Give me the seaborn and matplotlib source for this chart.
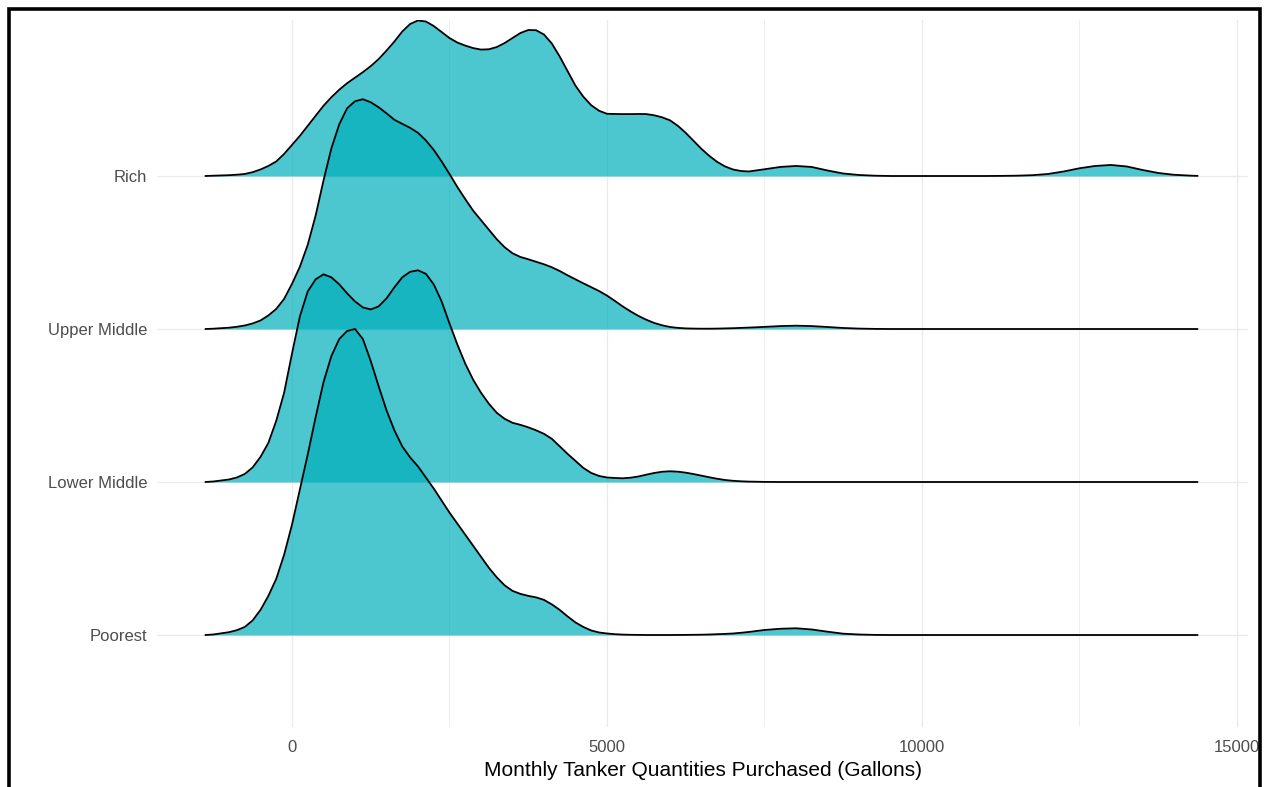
import numpy as np
import pandas as pd
import matplotlib
matplotlib.use("Agg")
import matplotlib.pyplot as plt
from matplotlib.patches import Rectangle
from matplotlib.ticker import MultipleLocator
import seaborn as sns

# ---------------- data ----------------
# sampling positions along the x axis (gallons)
GALLONS = [-1375, -1250, -1000, -875, -750, -625, -500, -375,
           -250, -125, 0, 125, 250, 375, 500, 625, 750, 875,
           1000, 1125, 1250, 1375, 1500, 1625, 1750, 1875, 2000, 2125,
           2250, 2375, 2500, 2625, 2750, 2875, 3000, 3125, 3250, 3375,
           3500, 3625, 3750, 3875, 4000, 4125, 4250, 4375, 4500, 4625,
           4750, 4875, 5000,
           5125, 5250, 5375, 5500, 5625, 5750, 5875, 6000, 6125, 6250,
           6375, 6500, 6625, 6750, 6875, 7000, 7125, 7250,
           7500, 7750, 8000, 8250, 8500, 8750, 9000, 9250, 9500, 9750,
           10000, 10250, 10500, 10750, 11000, 11250, 11500, 11750, 12000, 12250,
           12500, 12750, 13000, 13250, 13500, 13750, 14000, 14250,
           14375]

GROUPS = ["Poorest", "Lower Middle", "Upper Middle", "Rich"]

# relative density heights (one common scale for all groups)
RICH = [0, 0.3, 0.8, 1.3, 2, 3.8, 6.5, 10,
        14.5, 22, 31, 40, 50, 60, 70, 78.5, 86, 92.5,
        98, 103.5, 109.5, 116.5, 125, 134, 144, 151.5, 155, 154,
        149.5, 143.5, 137.5, 133, 130, 127.5, 126, 126.3, 128.5, 132.5,
        137.5, 142.5, 145.5, 145.3, 141, 132, 119, 104.5, 90, 79,
        70.5, 65, 62,
        61.8, 61.7, 61.7, 61.8, 61.7, 60.5, 58.5, 55.5, 50, 43,
        35, 27, 20, 14, 9.5, 6.5, 5, 4.5,
        6.7, 9, 10, 9, 5.5, 2.5, 1, 0.3, 0, 0,
        0, 0, 0, 0, 0, 0.1, 0.3, 0.8, 2, 4.5,
        7.7, 10, 11, 9.5, 6, 3, 1.2, 0.4,
        0.1]

UPPER_MIDDLE = [0, 0.3, 1.3, 2.2, 3.5, 5.5, 8.5, 13.5,
                20, 30, 45, 62, 84, 113, 148, 180, 204, 220,
                227, 229, 226, 221, 215, 208.5, 204.5, 200.5, 195.5, 188,
                178.5, 167, 154.5, 141.5, 129.5, 118, 108.5, 99, 89.5, 81.5,
                75.5, 71.8, 69.5, 67, 64.5, 61.5, 57.8, 53.5, 49.5, 45.5,
                41.7, 37.8, 33.3,
                28, 22.5, 17.5, 13, 9.2, 6, 3.7, 2, 1.1, 0.6,
                0.4, 0.3, 0.3, 0.4, 0.6, 0.8, 1.1, 1.4,
                2.1, 2.9, 3.3, 2.9, 2, 1, 0.4, 0.1, 0, 0,
                0, 0, 0, 0, 0, 0, 0, 0, 0, 0,
                0, 0, 0, 0, 0, 0, 0, 0,
                0]

LOWER_MIDDLE = [0, 0.5, 2.5, 4.5, 8, 14.5, 25, 39,
                61, 89, 128, 165, 190, 202, 207, 204, 197, 188,
                180, 174, 172, 175, 183, 194, 204, 209.5, 211, 207.5,
                197, 180, 158, 137, 118, 102, 89, 78, 69, 63,
                59, 57, 54.5, 51.5, 48, 43, 35.5, 28, 21, 14,
                9, 6, 4.5,
                4, 3.7, 4.3, 5.5, 7.3, 9, 10.2, 10.7, 10.3, 9.3,
                7.9, 6.3, 4.7, 3.2, 2, 1.2, 0.7, 0.4,
                0.1, 0, 0, 0, 0, 0, 0, 0, 0, 0,
                0, 0, 0, 0, 0, 0, 0, 0, 0, 0,
                0, 0, 0, 0, 0, 0, 0, 0,
                0]

POOREST = [0, 0.5, 2.8, 4.8, 8, 14.5, 25, 39,
           56, 80, 110, 145, 180, 217, 252, 278, 295, 303,
           305, 295, 273, 248, 224, 204, 188, 177, 168, 157,
           146, 134, 122, 111, 100, 89, 78, 67, 57.5, 49.5,
           44, 41, 39, 37.5, 35, 30.5, 25, 18.5, 12.5, 8,
           4.5, 2.5, 1.5,
           0.8, 0.4, 0.2, 0.1, 0, 0, 0, 0, 0.05, 0.1,
           0.2, 0.3, 0.5, 0.8, 1.1, 1.5, 2.2, 3,
           5, 6.2, 6.7, 5.5, 3.3, 1.3, 0.5, 0.1, 0, 0,
           0, 0, 0, 0, 0, 0, 0, 0, 0, 0,
           0, 0, 0, 0, 0, 0, 0, 0,
           0]

X_TICKS = [0, 5000, 10000, 15000]
X_LABEL = "Monthly Tanker Quantities Purchased (Gallons)"

# ---------------- build long table ----------------
series = {"Poorest": POOREST, "Lower Middle": LOWER_MIDDLE,
          "Upper Middle": UPPER_MIDDLE, "Rich": RICH}
frames = []
for i, g in enumerate(GROUPS):
    frames.append(pd.DataFrame({"gallons": GALLONS, "density": series[g],
                                "group": g, "pos": i + 1}))
df = pd.concat(frames, ignore_index=True)
RIDGE_SCALE = 2.0
df["y"] = df["pos"] + df["density"] / df["density"].max() * RIDGE_SCALE

# ---------------- plot ----------------
sns.set_theme(style="whitegrid")
plt.rcParams["font.family"] = ["Liberation Sans", "DejaVu Sans"]

W, H = 1265, 787
fig = plt.figure(figsize=(W / 100, H / 100), dpi=100)
fig.patch.set_facecolor("white")
ax = fig.add_axes([157 / W, 1 - 727 / H, (1248 - 157) / W, (727 - 20) / H])
ax.set_facecolor("white")

FILL = "#00AFBB"
for k, g in enumerate(reversed(GROUPS)):
    sub = df[df["group"] == g]
    z = 3 + k
    ax.fill_between(sub["gallons"], sub["pos"], sub["y"], color=FILL,
                    alpha=0.7, linewidth=0, zorder=z)
    sns.lineplot(data=sub, x="gallons", y="y", color="black", linewidth=1.3,
                 ax=ax, zorder=z + 0.5, estimator=None, sort=False,
                 solid_joinstyle="round", solid_capstyle="round")

ax.set_xlim(-2143, 15175)
ax.set_ylim(1 - (727 - 635) / 153, 4 + (176 - 20) / 153)

ax.set_xticks(X_TICKS)
ax.set_xticklabels([str(t) for t in X_TICKS])
ax.xaxis.set_minor_locator(MultipleLocator(2500))
ax.set_yticks(range(1, len(GROUPS) + 1))
ax.set_yticklabels(GROUPS)

ax.set_axisbelow(True)
ax.grid(which="major", axis="both", color="#EBEBEB", linewidth=1.0)
ax.grid(which="minor", axis="x", color="#EBEBEB", linewidth=0.6)
for s in ax.spines.values():
    s.set_visible(False)

ax.tick_params(axis="both", which="both", length=0, labelsize=12,
               labelcolor="#4D4D4D")
ax.tick_params(axis="y", pad=7)
ax.tick_params(axis="x", pad=9)
ax.set_ylabel("")
ax.set_xlabel(X_LABEL, fontsize=15, color="black", labelpad=5)

# outer black frame (its bottom edge falls below the image)
fig.add_artist(Rectangle((9 / W, -0.05), (1260 - 9) / W, (H - 8.5) / H + 0.05,
                         transform=fig.transFigure, fill=False,
                         edgecolor="black", linewidth=2.6, clip_on=False))

fig.savefig("out.png", dpi=100, facecolor="white")
